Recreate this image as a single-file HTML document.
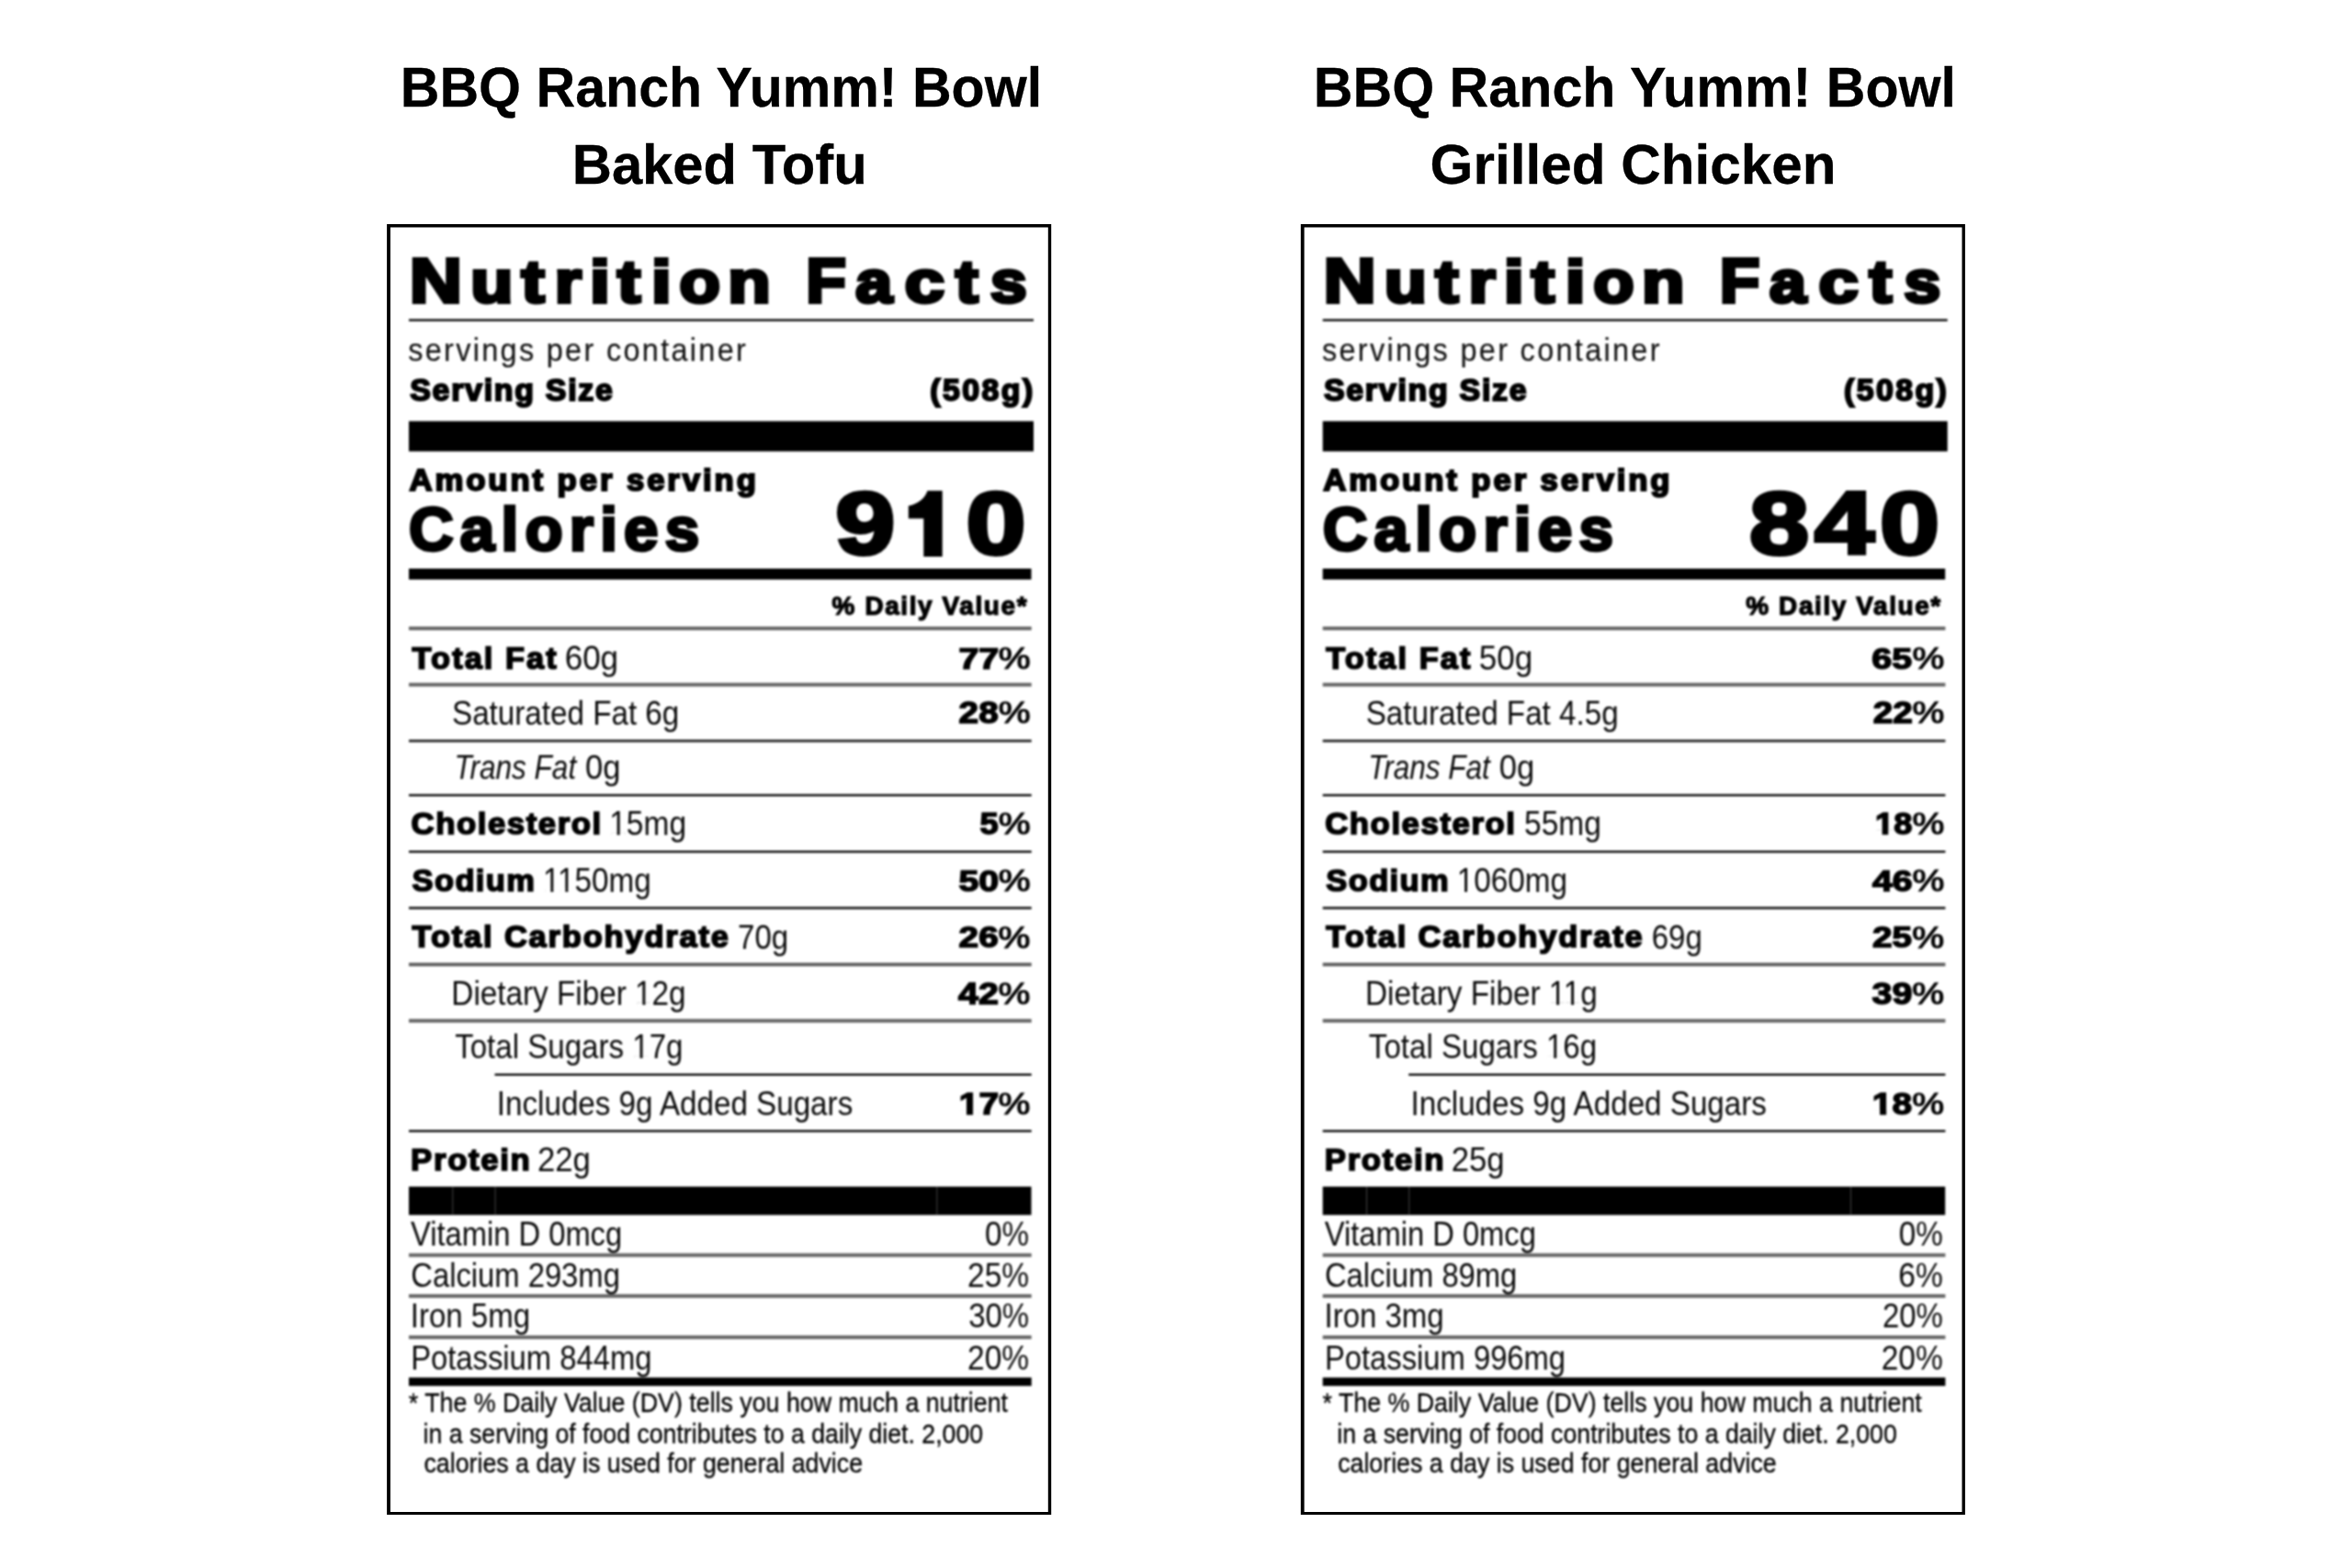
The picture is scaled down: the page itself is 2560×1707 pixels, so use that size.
<!DOCTYPE html>
<html><head><meta charset="utf-8"><title>Nutrition Facts</title>
<style>
html,body{margin:0;padding:0;background:#fff}
body{width:2560px;height:1707px;position:relative;overflow:hidden;font-family:"Liberation Sans",sans-serif}
.b{position:absolute;background:#000}
.s{position:absolute;left:0;top:0;overflow:visible}
.blur{position:absolute;left:0;top:0;width:2560px;height:1707px;filter:blur(0.85px)}
</style></head><body>
<svg class="s" width="2560" height="1707" viewBox="0 0 2560 1707" font-family="Liberation Sans, sans-serif" xml:space="preserve"><path fill-rule="evenodd" fill="#000" d="M421.10,244.0 H1144.20 V1649.0 H421.10 Z M424.90,247.4 V1646.0 H1140.80 V247.4 Z"/></svg>
<div class="blur">
<svg class="s" width="2560" height="1707" viewBox="0 0 2560 1707" font-family="Liberation Sans, sans-serif" xml:space="preserve">
<rect x="445.00" y="347.35" width="680.00" height="2.30" fill="#000"/>
<rect x="445.00" y="458.50" width="680.00" height="32.90" fill="#000"/>
<rect x="445.00" y="619.00" width="677.50" height="11.90" fill="#000"/>
<rect x="445.00" y="682.10" width="677.70" height="4.00" fill="#666"/>
<rect x="445.00" y="743.40" width="677.70" height="4.00" fill="#666"/>
<rect x="445.00" y="805.10" width="677.70" height="3.00" fill="#333"/>
<rect x="445.00" y="864.55" width="677.70" height="2.30" fill="#000"/>
<rect x="445.00" y="926.05" width="677.70" height="2.30" fill="#000"/>
<rect x="445.00" y="987.00" width="677.70" height="3.00" fill="#333"/>
<rect x="445.00" y="1048.00" width="677.70" height="4.00" fill="#666"/>
<rect x="445.00" y="1109.30" width="677.70" height="4.00" fill="#666"/>
<rect x="445.00" y="1230.15" width="677.70" height="2.30" fill="#000"/>
<rect x="538.50" y="1168.75" width="584.20" height="2.30" fill="#000"/>
<rect x="445.00" y="1291.80" width="677.50" height="30.90" fill="#000"/>
<rect x="492.30" y="1292.00" width="1.00" height="30.50" fill="#444"/>
<rect x="538.50" y="1292.00" width="1.00" height="30.50" fill="#444"/>
<rect x="1019.30" y="1292.00" width="1.00" height="30.50" fill="#444"/>
<rect x="445.00" y="1364.40" width="677.70" height="4.00" fill="#666"/>
<rect x="445.00" y="1408.90" width="677.70" height="4.00" fill="#666"/>
<rect x="445.00" y="1453.80" width="677.70" height="4.00" fill="#666"/>
<rect x="445.00" y="1499.60" width="677.70" height="9.20" fill="#000"/>
<text transform="translate(445.83,328.60) scale(1.1475,1)" font-size="69.04" fill="#000" font-weight="700" stroke="#000" stroke-width="4.0" stroke-linejoin="miter">N</text>
<text transform="translate(512.14,328.60) scale(1.1752,1)" font-size="64.20" fill="#000" font-weight="700" stroke="#000" stroke-width="4.0" stroke-linejoin="miter">u</text>
<text transform="translate(567.51,328.60) scale(1.1745,1)" font-size="64.20" fill="#000" font-weight="700" stroke="#000" stroke-width="4.0" stroke-linejoin="miter">t</text>
<text transform="translate(603.68,328.60) scale(1.1660,1)" font-size="64.20" fill="#000" font-weight="700" stroke="#000" stroke-width="4.0" stroke-linejoin="miter">r</text>
<text transform="translate(641.94,328.60) scale(1.2304,1)" font-size="64.20" fill="#000" font-weight="700" stroke="#000" stroke-width="4.0" stroke-linejoin="miter">i</text>
<text transform="translate(672.11,328.60) scale(1.1745,1)" font-size="64.20" fill="#000" font-weight="700" stroke="#000" stroke-width="4.0" stroke-linejoin="miter">t</text>
<text transform="translate(708.98,328.60) scale(1.2149,1)" font-size="64.20" fill="#000" font-weight="700" stroke="#000" stroke-width="4.0" stroke-linejoin="miter">i</text>
<text transform="translate(739.57,328.60) scale(1.1308,1)" font-size="64.20" fill="#000" font-weight="700" stroke="#000" stroke-width="4.0" stroke-linejoin="miter">o</text>
<text transform="translate(792.34,328.60) scale(1.1831,1)" font-size="64.20" fill="#000" font-weight="700" stroke="#000" stroke-width="4.0" stroke-linejoin="miter">n</text>
<text transform="translate(877.14,328.60) scale(1.0357,1)" font-size="69.04" fill="#000" font-weight="700" stroke="#000" stroke-width="4.0" stroke-linejoin="miter">F</text>
<text transform="translate(931.30,328.60) scale(1.1178,1)" font-size="64.20" fill="#000" font-weight="700" stroke="#000" stroke-width="4.0" stroke-linejoin="miter">a</text>
<text transform="translate(984.72,328.60) scale(1.2092,1)" font-size="64.20" fill="#000" font-weight="700" stroke="#000" stroke-width="4.0" stroke-linejoin="miter">c</text>
<text transform="translate(1039.88,328.60) scale(1.1534,1)" font-size="64.20" fill="#000" font-weight="700" stroke="#000" stroke-width="4.0" stroke-linejoin="miter">t</text>
<text transform="translate(1077.90,328.60) scale(1.1117,1)" font-size="64.20" fill="#000" font-weight="700" stroke="#000" stroke-width="4.0" stroke-linejoin="miter">s</text>
<text transform="translate(444.19,392.73) scale(0.9300,1)" font-size="34.85" fill="#111" stroke="#111" stroke-width="0.15" stroke-linejoin="miter" letter-spacing="2.502">servings per container</text>
<text transform="translate(446.24,436.00) scale(1.0400,1)" font-size="32.56" fill="#000" font-weight="700" stroke="#000" stroke-width="2.0" stroke-linejoin="miter" letter-spacing="1.692">Serving Size</text>
<text transform="translate(1012.32,436.00) scale(1.0400,1)" font-size="32.56" fill="#000" font-weight="700" stroke="#000" stroke-width="2.0" stroke-linejoin="miter" letter-spacing="2.334">(508g)</text>
<text transform="translate(445.49,534.15) scale(1.0200,1)" font-size="34.01" fill="#000" font-weight="700" stroke="#000" stroke-width="2.1" stroke-linejoin="miter" letter-spacing="2.869">Amount per serving</text>
<text transform="translate(444.99,599.40) scale(1.0200,1)" font-size="65.99" fill="#000" font-weight="700" stroke="#000" stroke-width="3.4" stroke-linejoin="miter" letter-spacing="7.085">Calories</text>
<text transform="translate(909.24,603.45) scale(1.2200,1)" font-size="95.93" fill="#000" font-weight="700" stroke="#000" stroke-width="4.0" stroke-linejoin="miter" letter-spacing="4.858">9</text>
<text transform="translate(1051.59,603.45) scale(1.2200,1)" font-size="95.93" fill="#000" font-weight="700" stroke="#000" stroke-width="4.0" stroke-linejoin="miter" letter-spacing="4.858">0</text>
<path d="M1025.7,534.3 L1009.5,534.3 C1007,541.8 1000,548.8 988.8,550.7 L988.8,564.6 L1005.3,564.6 L1005.3,606.0 L1025.7,606.0 Z" fill="#000"/>
<text transform="translate(905.60,668.95) scale(0.9800,1)" font-size="28.49" fill="#000" font-weight="700" stroke="#000" stroke-width="1.3" stroke-linejoin="miter" letter-spacing="1.659">% Daily Value*</text>
<text transform="translate(448.61,727.65) scale(1.0300,1)" font-size="33.28" fill="#000" font-weight="700" stroke="#000" stroke-width="1.7" stroke-linejoin="miter" letter-spacing="2.045">Total Fat</text>
<text transform="translate(614.65,729.05) scale(0.9419,1)" font-size="37.21" fill="#0a0a0a">60g</text>
<text transform="translate(1086.72,727.85) scale(1.2081,1)" font-size="32.43" fill="#000" stroke="#000" stroke-width="1.1" stroke-linejoin="miter">%</text>
<text transform="translate(1043.41,727.65) scale(1.2380,1)" font-size="31.86" fill="#000" font-weight="700" stroke="#000" stroke-width="1.5" stroke-linejoin="miter">77</text>
<text transform="translate(492.01,788.55) scale(0.8923,1)" font-size="37.21" fill="#0a0a0a">Saturated Fat 6g</text>
<text transform="translate(1086.72,787.35) scale(1.1670,1)" font-size="33.57" fill="#000" stroke="#000" stroke-width="1.1" stroke-linejoin="miter">%</text>
<text transform="translate(1043.61,787.15) scale(1.1734,1)" font-size="33.00" fill="#000" font-weight="700" stroke="#000" stroke-width="1.5" stroke-linejoin="miter">28</text>
<text transform="translate(494.56,848.15) scale(0.8477,1)" font-size="37.21" fill="#0a0a0a" font-style="italic">Trans Fat</text>
<text transform="translate(637.12,848.15) scale(0.9287,1)" font-size="37.21" fill="#0a0a0a">0g</text>
<text transform="translate(447.48,907.95) scale(1.0300,1)" font-size="33.72" fill="#000" font-weight="700" stroke="#000" stroke-width="1.7" stroke-linejoin="miter" letter-spacing="1.530">Cholesterol</text>
<text transform="translate(663.19,909.35) scale(0.9008,1)" font-size="37.21" fill="#0a0a0a">15mg</text><g transform="translate(663.19,909.35) scale(0.9008,1)" fill="#fff"><rect x="2.33" y="-3.28" width="7.02" height="3.78"/><rect x="12.65" y="-3.28" width="6.73" height="3.78"/></g>
<text transform="translate(1086.72,908.15) scale(1.1923,1)" font-size="32.86" fill="#000" stroke="#000" stroke-width="1.1" stroke-linejoin="miter">%</text>
<text transform="translate(1066.42,907.95) scale(1.1253,1)" font-size="32.29" fill="#000" font-weight="700" stroke="#000" stroke-width="1.5" stroke-linejoin="miter">5</text>
<text transform="translate(448.60,969.55) scale(1.0300,1)" font-size="33.43" fill="#000" font-weight="700" stroke="#000" stroke-width="1.7" stroke-linejoin="miter" letter-spacing="1.380">Sodium</text>
<text transform="translate(591.01,970.95) scale(0.8940,1)" font-size="37.21" fill="#0a0a0a">1150mg</text><g transform="translate(591.01,970.95) scale(0.8940,1)" fill="#fff"><rect x="2.33" y="-3.28" width="7.02" height="3.78"/><rect x="12.65" y="-3.28" width="6.73" height="3.78"/><rect x="20.26" y="-3.28" width="7.02" height="3.78"/><rect x="30.57" y="-3.28" width="6.73" height="3.78"/></g>
<text transform="translate(1086.72,969.75) scale(1.2028,1)" font-size="32.57" fill="#000" stroke="#000" stroke-width="1.1" stroke-linejoin="miter">%</text>
<text transform="translate(1043.40,969.55) scale(1.2271,1)" font-size="32.00" fill="#000" font-weight="700" stroke="#000" stroke-width="1.5" stroke-linejoin="miter">50</text>
<text transform="translate(448.62,1031.35) scale(1.0300,1)" font-size="33.43" fill="#000" font-weight="700" stroke="#000" stroke-width="1.7" stroke-linejoin="miter" letter-spacing="1.791">Total Carbohydrate</text>
<text transform="translate(803.05,1032.75) scale(0.8866,1)" font-size="37.21" fill="#0a0a0a">70g</text>
<text transform="translate(1086.52,1031.55) scale(1.2028,1)" font-size="32.57" fill="#000" stroke="#000" stroke-width="1.1" stroke-linejoin="miter">%</text>
<text transform="translate(1043.61,1031.35) scale(1.2099,1)" font-size="32.00" fill="#000" font-weight="700" stroke="#000" stroke-width="1.5" stroke-linejoin="miter">26</text>
<text transform="translate(491.34,1094.45) scale(0.8946,1)" font-size="37.21" fill="#0a0a0a">Dietary Fiber 12g</text><g transform="translate(491.34,1094.45) scale(0.8946,1)" fill="#fff"><rect x="225.60" y="-3.28" width="7.02" height="3.78"/><rect x="235.91" y="-3.28" width="6.73" height="3.78"/></g>
<text transform="translate(1086.52,1093.25) scale(1.1522,1)" font-size="34.00" fill="#000" stroke="#000" stroke-width="1.1" stroke-linejoin="miter">%</text>
<text transform="translate(1043.00,1093.05) scale(1.1803,1)" font-size="33.43" fill="#000" font-weight="700" stroke="#000" stroke-width="1.5" stroke-linejoin="miter">42</text>
<text transform="translate(495.17,1152.35) scale(0.8894,1)" font-size="37.21" fill="#0a0a0a">Total Sugars 17g</text><g transform="translate(495.17,1152.35) scale(0.8894,1)" fill="#fff"><rect x="219.44" y="-3.28" width="7.02" height="3.78"/><rect x="229.75" y="-3.28" width="6.73" height="3.78"/></g>
<text transform="translate(540.81,1214.15) scale(0.8919,1)" font-size="37.21" fill="#0a0a0a">Includes 9g Added Sugars</text>
<text transform="translate(1086.52,1212.95) scale(1.1474,1)" font-size="34.14" fill="#000" stroke="#000" stroke-width="1.1" stroke-linejoin="miter">%</text>
<text transform="translate(1043.74,1212.75) scale(1.1603,1)" font-size="33.57" fill="#000" font-weight="700" stroke="#000" stroke-width="1.5" stroke-linejoin="miter">17</text><g transform="translate(1043.74,1212.75) scale(1.1603,1)" fill="#fff"><rect x="0.86" y="-4.68" width="6.22" height="5.93"/><rect x="13.19" y="-4.68" width="5.79" height="5.93"/></g>
<text transform="translate(447.11,1273.95) scale(1.0300,1)" font-size="33.72" fill="#000" font-weight="700" stroke="#000" stroke-width="1.7" stroke-linejoin="miter" letter-spacing="1.626">Protein</text>
<text transform="translate(584.96,1275.35) scale(0.9333,1)" font-size="37.21" fill="#0a0a0a">22g</text>
<text transform="translate(447.04,1356.15) scale(0.8787,1)" font-size="37.21" fill="#0a0a0a">Vitamin D 0mcg</text>
<text transform="translate(1072.07,1356.15) scale(0.8926,1)" font-size="37.21" fill="#0a0a0a">0%</text>
<text transform="translate(447.26,1400.95) scale(0.8808,1)" font-size="37.21" fill="#0a0a0a">Calcium 293mg</text>
<text transform="translate(1053.02,1400.95) scale(0.9010,1)" font-size="37.21" fill="#0a0a0a">25%</text>
<text transform="translate(446.83,1445.45) scale(0.8864,1)" font-size="37.21" fill="#0a0a0a">Iron 5mg</text>
<text transform="translate(1054.18,1445.45) scale(0.8851,1)" font-size="37.21" fill="#0a0a0a">30%</text>
<text transform="translate(447.18,1490.55) scale(0.8808,1)" font-size="37.21" fill="#0a0a0a">Potassium 844mg</text>
<text transform="translate(1053.02,1490.55) scale(0.9010,1)" font-size="37.21" fill="#0a0a0a">20%</text>
<text transform="translate(444.83,1537.05) scale(0.8858,1)" font-size="30.23" fill="#000" stroke="#000" stroke-width="0.3" stroke-linejoin="miter">* The % Daily Value (DV) tells you how much a nutrient</text>
<text transform="translate(460.60,1570.95) scale(0.8829,1)" font-size="30.23" fill="#000" stroke="#000" stroke-width="0.3" stroke-linejoin="miter">in a serving of food contributes to a daily diet. 2,000</text>
<text transform="translate(461.43,1603.05) scale(0.8857,1)" font-size="30.23" fill="#000" stroke="#000" stroke-width="0.3" stroke-linejoin="miter">calories a day is used for general advice</text>
</svg>
</div>
<svg class="s" width="2560" height="1707" viewBox="0 0 2560 1707" font-family="Liberation Sans, sans-serif" xml:space="preserve"><path fill-rule="evenodd" fill="#000" d="M1415.80,244.0 H2138.90 V1649.0 H1415.80 Z M1419.60,247.4 V1646.0 H2135.50 V247.4 Z"/></svg>
<div class="blur">
<svg class="s" width="2560" height="1707" viewBox="0 0 2560 1707" font-family="Liberation Sans, sans-serif" xml:space="preserve">
<rect x="1439.70" y="347.35" width="680.00" height="2.30" fill="#000"/>
<rect x="1439.70" y="458.50" width="680.00" height="32.90" fill="#000"/>
<rect x="1439.70" y="619.00" width="677.50" height="11.90" fill="#000"/>
<rect x="1439.70" y="682.10" width="677.70" height="4.00" fill="#666"/>
<rect x="1439.70" y="743.40" width="677.70" height="4.00" fill="#666"/>
<rect x="1439.70" y="805.10" width="677.70" height="3.00" fill="#333"/>
<rect x="1439.70" y="864.55" width="677.70" height="2.30" fill="#000"/>
<rect x="1439.70" y="926.05" width="677.70" height="2.30" fill="#000"/>
<rect x="1439.70" y="987.00" width="677.70" height="3.00" fill="#333"/>
<rect x="1439.70" y="1048.00" width="677.70" height="4.00" fill="#666"/>
<rect x="1439.70" y="1109.30" width="677.70" height="4.00" fill="#666"/>
<rect x="1439.70" y="1230.15" width="677.70" height="2.30" fill="#000"/>
<rect x="1533.20" y="1168.75" width="584.20" height="2.30" fill="#000"/>
<rect x="1439.70" y="1291.80" width="677.50" height="30.90" fill="#000"/>
<rect x="1487.00" y="1292.00" width="1.00" height="30.50" fill="#444"/>
<rect x="1533.20" y="1292.00" width="1.00" height="30.50" fill="#444"/>
<rect x="2014.00" y="1292.00" width="1.00" height="30.50" fill="#444"/>
<rect x="1439.70" y="1364.40" width="677.70" height="4.00" fill="#666"/>
<rect x="1439.70" y="1408.90" width="677.70" height="4.00" fill="#666"/>
<rect x="1439.70" y="1453.80" width="677.70" height="4.00" fill="#666"/>
<rect x="1439.70" y="1499.60" width="677.70" height="9.20" fill="#000"/>
<text transform="translate(1440.53,328.60) scale(1.1475,1)" font-size="69.04" fill="#000" font-weight="700" stroke="#000" stroke-width="4.0" stroke-linejoin="miter">N</text>
<text transform="translate(1506.84,328.60) scale(1.1752,1)" font-size="64.20" fill="#000" font-weight="700" stroke="#000" stroke-width="4.0" stroke-linejoin="miter">u</text>
<text transform="translate(1562.21,328.60) scale(1.1745,1)" font-size="64.20" fill="#000" font-weight="700" stroke="#000" stroke-width="4.0" stroke-linejoin="miter">t</text>
<text transform="translate(1598.38,328.60) scale(1.1660,1)" font-size="64.20" fill="#000" font-weight="700" stroke="#000" stroke-width="4.0" stroke-linejoin="miter">r</text>
<text transform="translate(1636.64,328.60) scale(1.2304,1)" font-size="64.20" fill="#000" font-weight="700" stroke="#000" stroke-width="4.0" stroke-linejoin="miter">i</text>
<text transform="translate(1666.81,328.60) scale(1.1745,1)" font-size="64.20" fill="#000" font-weight="700" stroke="#000" stroke-width="4.0" stroke-linejoin="miter">t</text>
<text transform="translate(1703.68,328.60) scale(1.2149,1)" font-size="64.20" fill="#000" font-weight="700" stroke="#000" stroke-width="4.0" stroke-linejoin="miter">i</text>
<text transform="translate(1734.27,328.60) scale(1.1308,1)" font-size="64.20" fill="#000" font-weight="700" stroke="#000" stroke-width="4.0" stroke-linejoin="miter">o</text>
<text transform="translate(1787.04,328.60) scale(1.1831,1)" font-size="64.20" fill="#000" font-weight="700" stroke="#000" stroke-width="4.0" stroke-linejoin="miter">n</text>
<text transform="translate(1871.84,328.60) scale(1.0357,1)" font-size="69.04" fill="#000" font-weight="700" stroke="#000" stroke-width="4.0" stroke-linejoin="miter">F</text>
<text transform="translate(1926.00,328.60) scale(1.1178,1)" font-size="64.20" fill="#000" font-weight="700" stroke="#000" stroke-width="4.0" stroke-linejoin="miter">a</text>
<text transform="translate(1979.42,328.60) scale(1.2092,1)" font-size="64.20" fill="#000" font-weight="700" stroke="#000" stroke-width="4.0" stroke-linejoin="miter">c</text>
<text transform="translate(2034.58,328.60) scale(1.1534,1)" font-size="64.20" fill="#000" font-weight="700" stroke="#000" stroke-width="4.0" stroke-linejoin="miter">t</text>
<text transform="translate(2072.60,328.60) scale(1.1117,1)" font-size="64.20" fill="#000" font-weight="700" stroke="#000" stroke-width="4.0" stroke-linejoin="miter">s</text>
<text transform="translate(1438.89,392.73) scale(0.9300,1)" font-size="34.85" fill="#111" stroke="#111" stroke-width="0.15" stroke-linejoin="miter" letter-spacing="2.502">servings per container</text>
<text transform="translate(1440.94,436.00) scale(1.0400,1)" font-size="32.56" fill="#000" font-weight="700" stroke="#000" stroke-width="2.0" stroke-linejoin="miter" letter-spacing="1.692">Serving Size</text>
<text transform="translate(2007.02,436.00) scale(1.0400,1)" font-size="32.56" fill="#000" font-weight="700" stroke="#000" stroke-width="2.0" stroke-linejoin="miter" letter-spacing="2.334">(508g)</text>
<text transform="translate(1440.19,534.15) scale(1.0200,1)" font-size="34.01" fill="#000" font-weight="700" stroke="#000" stroke-width="2.1" stroke-linejoin="miter" letter-spacing="2.869">Amount per serving</text>
<text transform="translate(1439.69,599.40) scale(1.0200,1)" font-size="65.99" fill="#000" font-weight="700" stroke="#000" stroke-width="3.4" stroke-linejoin="miter" letter-spacing="7.085">Calories</text>
<text transform="translate(1903.94,603.45) scale(1.2200,1)" font-size="95.93" fill="#000" font-weight="700" stroke="#000" stroke-width="4.0" stroke-linejoin="miter" letter-spacing="4.858">840</text>
<text transform="translate(1900.30,668.95) scale(0.9800,1)" font-size="28.49" fill="#000" font-weight="700" stroke="#000" stroke-width="1.3" stroke-linejoin="miter" letter-spacing="1.659">% Daily Value*</text>
<text transform="translate(1443.31,727.65) scale(1.0300,1)" font-size="33.28" fill="#000" font-weight="700" stroke="#000" stroke-width="1.7" stroke-linejoin="miter" letter-spacing="2.045">Total Fat</text>
<text transform="translate(1609.70,729.05) scale(0.9419,1)" font-size="37.21" fill="#0a0a0a">50g</text>
<text transform="translate(2081.42,727.85) scale(1.2081,1)" font-size="32.43" fill="#000" stroke="#000" stroke-width="1.1" stroke-linejoin="miter">%</text>
<text transform="translate(2037.32,727.65) scale(1.2380,1)" font-size="31.86" fill="#000" font-weight="700" stroke="#000" stroke-width="1.5" stroke-linejoin="miter">65</text>
<text transform="translate(1486.71,788.55) scale(0.8923,1)" font-size="37.21" fill="#0a0a0a">Saturated Fat 4.5g</text>
<text transform="translate(2081.42,787.35) scale(1.1670,1)" font-size="33.57" fill="#000" stroke="#000" stroke-width="1.1" stroke-linejoin="miter">%</text>
<text transform="translate(2038.70,787.15) scale(1.1734,1)" font-size="33.00" fill="#000" font-weight="700" stroke="#000" stroke-width="1.5" stroke-linejoin="miter">22</text>
<text transform="translate(1489.26,848.15) scale(0.8477,1)" font-size="37.21" fill="#0a0a0a" font-style="italic">Trans Fat</text>
<text transform="translate(1631.82,848.15) scale(0.9287,1)" font-size="37.21" fill="#0a0a0a">0g</text>
<text transform="translate(1442.18,907.95) scale(1.0300,1)" font-size="33.72" fill="#000" font-weight="700" stroke="#000" stroke-width="1.7" stroke-linejoin="miter" letter-spacing="1.530">Cholesterol</text>
<text transform="translate(1659.06,909.35) scale(0.9008,1)" font-size="37.21" fill="#0a0a0a">55mg</text>
<text transform="translate(2081.42,908.15) scale(1.1923,1)" font-size="32.86" fill="#000" stroke="#000" stroke-width="1.1" stroke-linejoin="miter">%</text>
<text transform="translate(2040.96,907.95) scale(1.1253,1)" font-size="32.29" fill="#000" font-weight="700" stroke="#000" stroke-width="1.5" stroke-linejoin="miter">18</text><g transform="translate(2040.96,907.95) scale(1.1253,1)" fill="#fff"><rect x="0.78" y="-4.54" width="6.00" height="5.79"/><rect x="12.72" y="-4.54" width="5.59" height="5.79"/></g>
<text transform="translate(1443.30,969.55) scale(1.0300,1)" font-size="33.43" fill="#000" font-weight="700" stroke="#000" stroke-width="1.7" stroke-linejoin="miter" letter-spacing="1.380">Sodium</text>
<text transform="translate(1585.71,970.95) scale(0.8940,1)" font-size="37.21" fill="#0a0a0a">1060mg</text><g transform="translate(1585.71,970.95) scale(0.8940,1)" fill="#fff"><rect x="2.33" y="-3.28" width="7.02" height="3.78"/><rect x="12.65" y="-3.28" width="6.73" height="3.78"/></g>
<text transform="translate(2081.42,969.75) scale(1.2028,1)" font-size="32.57" fill="#000" stroke="#000" stroke-width="1.1" stroke-linejoin="miter">%</text>
<text transform="translate(2037.91,969.55) scale(1.2271,1)" font-size="32.00" fill="#000" font-weight="700" stroke="#000" stroke-width="1.5" stroke-linejoin="miter">46</text>
<text transform="translate(1443.32,1031.35) scale(1.0300,1)" font-size="33.43" fill="#000" font-weight="700" stroke="#000" stroke-width="1.7" stroke-linejoin="miter" letter-spacing="1.791">Total Carbohydrate</text>
<text transform="translate(1797.75,1032.75) scale(0.8866,1)" font-size="37.21" fill="#0a0a0a">69g</text>
<text transform="translate(2081.22,1031.55) scale(1.2028,1)" font-size="32.57" fill="#000" stroke="#000" stroke-width="1.1" stroke-linejoin="miter">%</text>
<text transform="translate(2037.93,1031.35) scale(1.2099,1)" font-size="32.00" fill="#000" font-weight="700" stroke="#000" stroke-width="1.5" stroke-linejoin="miter">25</text>
<text transform="translate(1486.04,1094.45) scale(0.8946,1)" font-size="37.21" fill="#0a0a0a">Dietary Fiber 11g</text><g transform="translate(1486.04,1094.45) scale(0.8946,1)" fill="#fff"><rect x="225.60" y="-3.28" width="7.02" height="3.78"/><rect x="235.91" y="-3.28" width="6.73" height="3.78"/><rect x="243.52" y="-3.28" width="7.02" height="3.78"/><rect x="253.83" y="-3.28" width="6.73" height="3.78"/></g>
<text transform="translate(2081.22,1093.25) scale(1.1522,1)" font-size="34.00" fill="#000" stroke="#000" stroke-width="1.1" stroke-linejoin="miter">%</text>
<text transform="translate(2037.50,1093.05) scale(1.1803,1)" font-size="33.43" fill="#000" font-weight="700" stroke="#000" stroke-width="1.5" stroke-linejoin="miter">39</text>
<text transform="translate(1489.87,1152.35) scale(0.8894,1)" font-size="37.21" fill="#0a0a0a">Total Sugars 16g</text><g transform="translate(1489.87,1152.35) scale(0.8894,1)" fill="#fff"><rect x="219.44" y="-3.28" width="7.02" height="3.78"/><rect x="229.75" y="-3.28" width="6.73" height="3.78"/></g>
<text transform="translate(1535.51,1214.15) scale(0.8919,1)" font-size="37.21" fill="#0a0a0a">Includes 9g Added Sugars</text>
<text transform="translate(2081.22,1212.95) scale(1.1474,1)" font-size="34.14" fill="#000" stroke="#000" stroke-width="1.1" stroke-linejoin="miter">%</text>
<text transform="translate(2037.86,1212.75) scale(1.1603,1)" font-size="33.57" fill="#000" font-weight="700" stroke="#000" stroke-width="1.5" stroke-linejoin="miter">18</text><g transform="translate(2037.86,1212.75) scale(1.1603,1)" fill="#fff"><rect x="0.86" y="-4.68" width="6.22" height="5.93"/><rect x="13.19" y="-4.68" width="5.79" height="5.93"/></g>
<text transform="translate(1441.81,1273.95) scale(1.0300,1)" font-size="33.72" fill="#000" font-weight="700" stroke="#000" stroke-width="1.7" stroke-linejoin="miter" letter-spacing="1.626">Protein</text>
<text transform="translate(1579.66,1275.35) scale(0.9333,1)" font-size="37.21" fill="#0a0a0a">25g</text>
<text transform="translate(1441.74,1356.15) scale(0.8787,1)" font-size="37.21" fill="#0a0a0a">Vitamin D 0mcg</text>
<text transform="translate(2066.77,1356.15) scale(0.8926,1)" font-size="37.21" fill="#0a0a0a">0%</text>
<text transform="translate(1441.96,1400.95) scale(0.8808,1)" font-size="37.21" fill="#0a0a0a">Calcium 89mg</text>
<text transform="translate(2066.33,1400.95) scale(0.9010,1)" font-size="37.21" fill="#0a0a0a">6%</text>
<text transform="translate(1441.53,1445.45) scale(0.8864,1)" font-size="37.21" fill="#0a0a0a">Iron 3mg</text>
<text transform="translate(2048.88,1445.45) scale(0.8851,1)" font-size="37.21" fill="#0a0a0a">20%</text>
<text transform="translate(1441.88,1490.55) scale(0.8808,1)" font-size="37.21" fill="#0a0a0a">Potassium 996mg</text>
<text transform="translate(2047.72,1490.55) scale(0.9010,1)" font-size="37.21" fill="#0a0a0a">20%</text>
<text transform="translate(1439.53,1537.05) scale(0.8858,1)" font-size="30.23" fill="#000" stroke="#000" stroke-width="0.3" stroke-linejoin="miter">* The % Daily Value (DV) tells you how much a nutrient</text>
<text transform="translate(1455.30,1570.95) scale(0.8829,1)" font-size="30.23" fill="#000" stroke="#000" stroke-width="0.3" stroke-linejoin="miter">in a serving of food contributes to a daily diet. 2,000</text>
<text transform="translate(1456.13,1603.05) scale(0.8857,1)" font-size="30.23" fill="#000" stroke="#000" stroke-width="0.3" stroke-linejoin="miter">calories a day is used for general advice</text>
</svg>
</div>
<svg class="s" width="2560" height="1707" viewBox="0 0 2560 1707" font-family="Liberation Sans, sans-serif" xml:space="preserve">
<text transform="translate(435.76,115.85) scale(0.9706,1)" font-size="60.90" fill="#000" font-weight="700" stroke="#000" stroke-width="0.3" stroke-linejoin="miter">BBQ Ranch Yumm! Bowl</text>
<text transform="translate(622.71,199.55) scale(0.9818,1)" font-size="60.90" fill="#000" font-weight="700" stroke="#000" stroke-width="0.3" stroke-linejoin="miter">Baked Tofu</text>
<text transform="translate(1429.65,115.85) scale(0.9720,1)" font-size="60.90" fill="#000" font-weight="700" stroke="#000" stroke-width="0.3" stroke-linejoin="miter">BBQ Ranch Yumm! Bowl</text>
<text transform="translate(1556.59,199.55) scale(0.9897,1)" font-size="60.90" fill="#000" font-weight="700" stroke="#000" stroke-width="0.3" stroke-linejoin="miter">Grilled Chicken</text>
</svg>
</body></html>
